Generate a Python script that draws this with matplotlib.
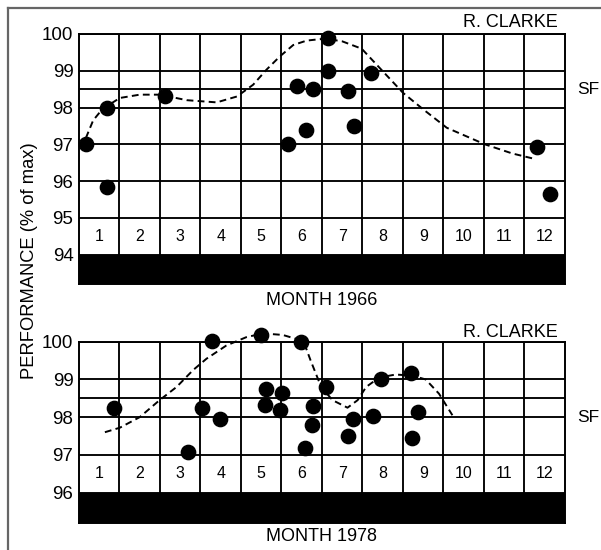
#!/usr/bin/env python3
"""Monthly performance, R. Clarke, 1966 vs 1978 (redrawn from a scanned figure)."""
import matplotlib
matplotlib.use("Agg")
import matplotlib.pyplot as plt
from matplotlib import rcParams
from matplotlib.lines import Line2D

# --- 1966: individual races (month position, % of max) ---
X66 = [0.17, 0.70, 0.70, 2.13, 5.15, 5.38, 5.60, 5.78, 6.15, 6.15, 6.65, 6.80, 7.20, 11.30, 11.63]
Y66 = [97.0, 98.0, 95.85, 98.3, 97.0, 98.58, 97.38, 98.5, 99.88, 99.0, 98.45, 97.5, 98.95, 96.93, 95.65]
# 1966 trend (dashed, hand drawn)
CX66 = [0.17, 0.35, 0.55, 0.75, 1.01, 1.50, 2.00, 2.66, 3.40, 3.90, 4.30, 4.63, 4.96, 5.29, 5.62,
        5.95, 6.16, 6.50, 6.98, 7.43, 8.00, 8.50, 9.08, 10.02, 10.70, 11.26]
CY66 = [97.17, 97.65, 97.92, 98.08, 98.26, 98.35, 98.35, 98.2, 98.14, 98.3, 98.62, 99.03, 99.39, 99.7, 99.82,
        99.86, 99.86, 99.8, 99.6, 99.07, 98.4, 97.95, 97.45, 97.0, 96.75, 96.6]

# --- 1978 ---
X78 = [0.86, 2.69, 3.04, 3.28, 3.47, 4.50, 4.62, 4.59, 5.02, 4.97, 5.49, 5.77, 5.76, 5.58,
       6.10, 6.77, 6.65, 7.25, 7.46, 8.19, 8.36, 8.22]
Y78 = [98.23, 97.07, 98.25, 100.02, 97.96, 100.17, 98.75, 98.33, 98.65, 98.18, 100.0, 98.3, 97.8, 97.18,
       98.8, 97.96, 97.5, 98.04, 99.02, 99.17, 98.13, 97.44]
CX78 = [0.64, 1.01, 1.50, 1.99, 2.41, 2.82, 3.15, 3.64, 4.13, 4.54, 5.03, 5.44, 5.60, 5.72, 5.85,
        5.98, 6.26, 6.63, 6.88, 7.09, 7.41, 7.82, 8.23, 8.56, 8.89, 9.22]
CY78 = [97.6, 97.72, 98.0, 98.45, 98.8, 99.25, 99.55, 99.9, 100.12, 100.22, 100.18, 100.05, 99.85, 99.5, 99.15,
        98.8, 98.45, 98.25, 98.45, 98.8, 99.05, 99.13, 99.1, 99.0, 98.62, 98.05]

MONTHS = list(range(1, 13))
SF = {"1966": 98.5, "1978": 98.0}

rcParams["font.family"] = ["Liberation Sans", "DejaVu Sans"]

fig = plt.figure(figsize=(6.01, 5.50), dpi=100)
ax1 = fig.add_axes([0.1314, 0.4836, 0.8087, 0.4546])
ax2 = fig.add_axes([0.1314, 0.0496, 0.8087, 0.3291])

# axes, year, data, curve, y floor, bar top, grid levels, month-label pad, signature pad
panels = [
    (ax1, "1966", X66, Y66, CX66, CY66, 93.2, 94, [94, 95, 96, 97, 98, 98.5, 99, 100], 5.5, 2.5),
    (ax2, "1978", X78, Y78, CX78, CY78, 95.2, 96, [96, 97, 98, 98.5, 99, 100], 3.5, 0.5),
]
for ax, yr, xs, ys, cx, cy, ybot, ybar, hlines, mpad, rpad in panels:
    ax.set_xlim(0, 12)
    ax.set_ylim(ybot, 100)
    ax.axhspan(ybot, ybar, color="black", zorder=1)
    for h in hlines:
        ax.axhline(h, color="black", lw=1.35, zorder=2)
    for m in MONTHS[:-1]:
        ax.plot([m, m], [ybar, 100], color="black", lw=1.35, zorder=2)
    for m in MONTHS:
        ax.text(m - 0.5, ybar + 0.5, str(m), ha="center", va="center", fontsize=11.5, zorder=3)
    ax.plot(cx, cy, color="black", lw=1.4, ls=(0, (3.5, 2.2)), zorder=3, clip_on=False)
    ax.plot(xs, ys, "o", color="black", ms=10.3, zorder=4, clip_on=False)

    ticks = list(range(int(ybar), 101))
    ax.set_yticks(ticks)
    ax.set_yticklabels([str(t) for t in ticks], fontsize=13.5)
    ax.tick_params(axis="y", length=0, pad=4)
    ax.set_xticks([])
    for sp in ax.spines.values():
        sp.set_linewidth(1.4)

    ax.annotate("R. CLARKE", xy=(1, 1), xycoords="axes fraction", xytext=(-5, rpad),
                textcoords="offset points", ha="right", va="bottom", fontsize=13)
    ax.annotate("SF", xy=(1, SF[yr]), xycoords=ax.get_yaxis_transform(), xytext=(9, 0),
                textcoords="offset points", ha="left", va="center", fontsize=12.5)
    ax.annotate(f"MONTH {yr}", xy=(0.5, 0), xycoords="axes fraction", xytext=(0, -mpad),
                textcoords="offset points", ha="center", va="top", fontsize=13)

fig.text(30 / 601, 1 - 261 / 550, "PERFORMANCE (% of max)", rotation=90,
         ha="center", va="center", fontsize=13.2)

# scan border: top and left edges only
fig.add_artist(Line2D([8 / 601, 1], [1 - 8 / 550] * 2, color="0.4", lw=1.6))
fig.add_artist(Line2D([8 / 601] * 2, [0, 1 - 8 / 550], color="0.4", lw=1.6))

fig.savefig("out.png", dpi=100)
plt.close(fig)
